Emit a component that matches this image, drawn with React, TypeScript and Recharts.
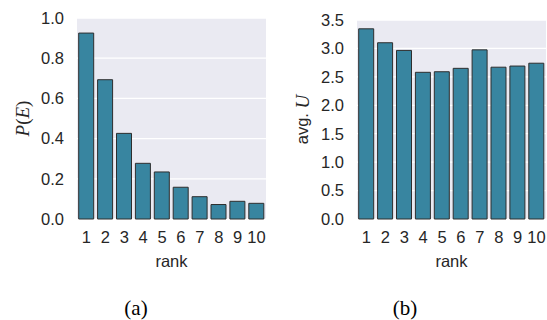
import React from 'react';
import { BarChart, Bar, XAxis, YAxis, CartesianGrid } from 'recharts';

const ranks = ['1', '2', '3', '4', '5', '6', '7', '8', '9', '10'];
const probError = [0.925, 0.693, 0.426, 0.277, 0.234, 0.158, 0.111, 0.072, 0.088, 0.078];
const avgU = [3.345, 3.1, 2.965, 2.58, 2.59, 2.65, 2.975, 2.67, 2.69, 2.74];
const probTicks = [0, 0.2, 0.4, 0.6, 0.8, 1.0];
const avgTicks = [0, 0.5, 1.0, 1.5, 2.0, 2.5, 3.0, 3.5];

const dataA = ranks.map((r, i) => ({ rank: r, value: probError[i] }));
const dataB = ranks.map((r, i) => ({ rank: r, value: avgU[i] }));

const SANS = '"Liberation Sans", Arial, sans-serif';
const SERIF = '"Liberation Serif", "Times New Roman", serif';
const TEXT = '#262626';
const BAR = '#3885a0';

const RotLabel = (props: any) => {
  const vb = props.viewBox || { x: 0, y: 18, width: 77, height: 201 };
  const cx = 22;
  const cy = vb.y + vb.height / 2;
  return (
    <text
      x={cx}
      y={cy}
      transform={`rotate(-90, ${cx}, ${cy})`}
      textAnchor="middle"
      dominantBaseline="central"
      fill={TEXT}
    >
      {props.kind === 'p' ? (
        <>
          <tspan fontFamily={SERIF} fontStyle="italic" fontSize={19}>P</tspan>
          <tspan fontFamily={SERIF} fontSize={19}>(</tspan>
          <tspan fontFamily={SERIF} fontStyle="italic" fontSize={19}>E</tspan>
          <tspan fontFamily={SERIF} fontSize={19}>)</tspan>
        </>
      ) : (
        <>
          <tspan fontFamily={SANS} fontSize={16.5}>avg. </tspan>
          <tspan fontFamily={SERIF} fontStyle="italic" fontSize={19}>U</tspan>
        </>
      )}
    </text>
  );
};

interface PanelProps {
  data: { rank: string; value: number }[];
  ticks: number[];
  max: number;
  width: number;
  top: number;
  right: number;
  kind: string;
}

const Panel: React.FC<PanelProps> = ({ data, ticks, max, width, top, right, kind }) => (
  <BarChart
    width={width}
    height={280}
    data={data}
    margin={{ top, right, bottom: 12, left: 0 }}
    barCategoryGap="9%"
  >
    <CartesianGrid vertical={false} stroke="#ffffff" strokeWidth={1.3} fill="#eaeaf2" />
    <XAxis
      dataKey="rank"
      interval={0}
      tickLine={false}
      axisLine={false}
      tickSize={0}
      tickMargin={12}
      height={49}
      tick={{ fill: TEXT, fontSize: 16.5, fontFamily: SANS }}
      label={{ value: 'rank', position: 'insideBottom', offset: 1, fill: TEXT, fontSize: 16.5, fontFamily: SANS }}
    />
    <YAxis
      domain={[0, max]}
      ticks={ticks}
      width={77}
      tickLine={false}
      axisLine={false}
      tickSize={0}
      tickMargin={13}
      tickFormatter={(v: number) => v.toFixed(1)}
      tick={{ fill: TEXT, fontSize: 16.5, fontFamily: SANS }}
      label={<RotLabel kind={kind} />}
    />
    <Bar dataKey="value" fill={BAR} stroke="#2e2e2e" strokeWidth={1} isAnimationActive={false} />
  </BarChart>
);

const captionStyle: React.CSSProperties = {
  position: 'absolute',
  top: 296,
  width: 60,
  textAlign: 'center',
  fontFamily: SERIF,
  fontSize: 21,
  color: '#000',
  lineHeight: '24px',
};

export default function App() {
  return (
    <div style={{ position: 'absolute', left: 0, top: 0, width: 547, height: 320, background: '#fff' }}>
      <div style={{ position: 'absolute', left: 0, top: 0 }}>
        <Panel data={dataA} ticks={probTicks} max={1} width={273} top={18} right={7} kind="p" />
      </div>
      <div style={{ position: 'absolute', left: 280, top: 0 }}>
        <Panel data={dataB} ticks={avgTicks} max={3.5} width={267} top={20} right={1} kind="u" />
      </div>
      <div style={{ ...captionStyle, left: 106 }}>(a)</div>
      <div style={{ ...captionStyle, left: 375 }}>(b)</div>
    </div>
  );
}
